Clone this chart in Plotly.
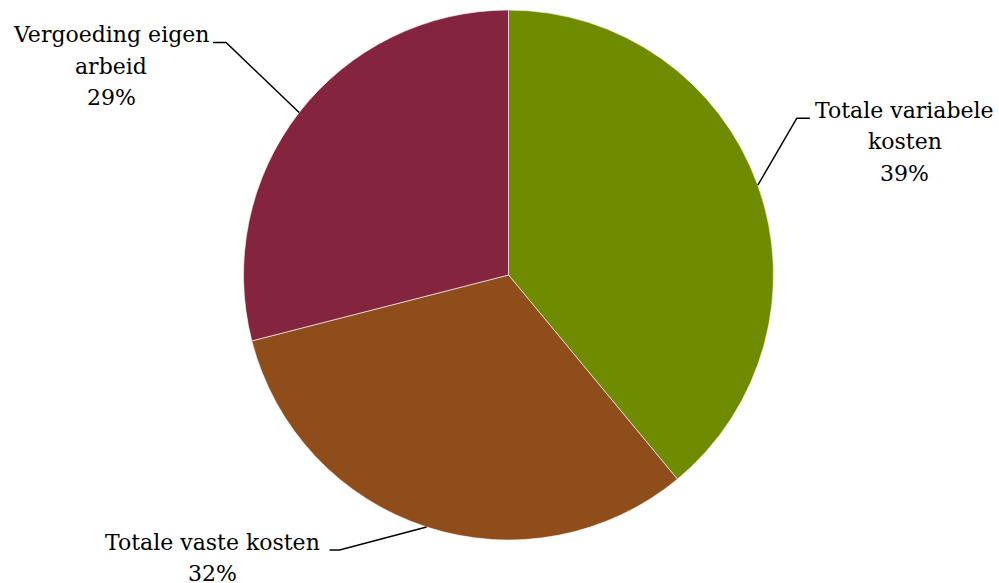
import math
import plotly.graph_objects as go

labels = ["Totale variabele kosten", "Totale vaste kosten", "Vergoeding eigen arbeid"]
values = [39, 32, 29]
label_lines = [["Totale variabele", "kosten"], ["Totale vaste kosten"], ["Vergoeding eigen", "arbeid"]]
colors = ["#6F8C00", "#8F4D1B", "#85243F"]

W, H = 999, 583
ML, MR, MT, MB = 0, 0, 10, 43
DOM_X = [0.018, 1.0]

fig = go.Figure(go.Pie(
    labels=labels, values=values, sort=False, direction="clockwise", rotation=0,
    marker=dict(colors=colors, line=dict(color="rgba(255,255,255,0.6)", width=1)),
    textinfo="none", hoverinfo="label+percent", showlegend=False,
    domain=dict(x=DOM_X, y=[0, 1]),
))

pw, ph = W - ML - MR, H - MT - MB
cx = ML + pw * (DOM_X[0] + DOM_X[1]) / 2
cy = MT + ph / 2
r = min(pw * (DOM_X[1] - DOM_X[0]), ph) / 2

def px2paper(x, y):
    return (x - ML) / pw, 1 - (y - MT) / ph

# (elbow dx, elbow dy, horizontal run, text-block center offset from run end)
offsets = [(39, -67, 13, 95), (-87, 23, -10, -117), (-73, -70, -13, -102)]
FS = 22
LS = 31.5
total = sum(values)
cum = 0
shapes = []
annotations = []
for i, v in enumerate(values):
    mid = (cum + v / 2) / total * 2 * math.pi
    cum += v
    ax = cx + r * math.sin(mid)
    ay = cy - r * math.cos(mid)
    dx, dy, hr, tc = offsets[i]
    ex, ey = ax + dx, ay + dy
    hx = ex + hr
    p = [px2paper(ax, ay), px2paper(ex, ey), px2paper(hx, ey)]
    shapes.append(dict(type="path", xref="paper", yref="paper",
                       path="M {} {} L {} {} L {} {}".format(p[0][0], p[0][1], p[1][0], p[1][1], p[2][0], p[2][1]),
                       line=dict(color="black", width=1.5)))
    lines = label_lines[i] + ["{}%".format(round(v / total * 100))]
    for j, t in enumerate(lines):
        annotations.append(dict(
            text=t, showarrow=False, xref="paper", yref="paper",
            x=px2paper(hx + tc, 0)[0], y=px2paper(0, ey + 6.5 + j * LS)[1],
            xanchor="center", yanchor="bottom",
            font=dict(family="DejaVu Serif", size=FS, color="black"),
        ))

fig.update_layout(width=W, height=H, margin=dict(l=ML, r=MR, t=MT, b=MB),
                  paper_bgcolor="white", plot_bgcolor="white",
                  shapes=shapes, annotations=annotations)
fig.write_html("out.html", config={"displayModeBar": False},
               post_script="document.body.style.margin='0';document.body.style.padding='0';")
